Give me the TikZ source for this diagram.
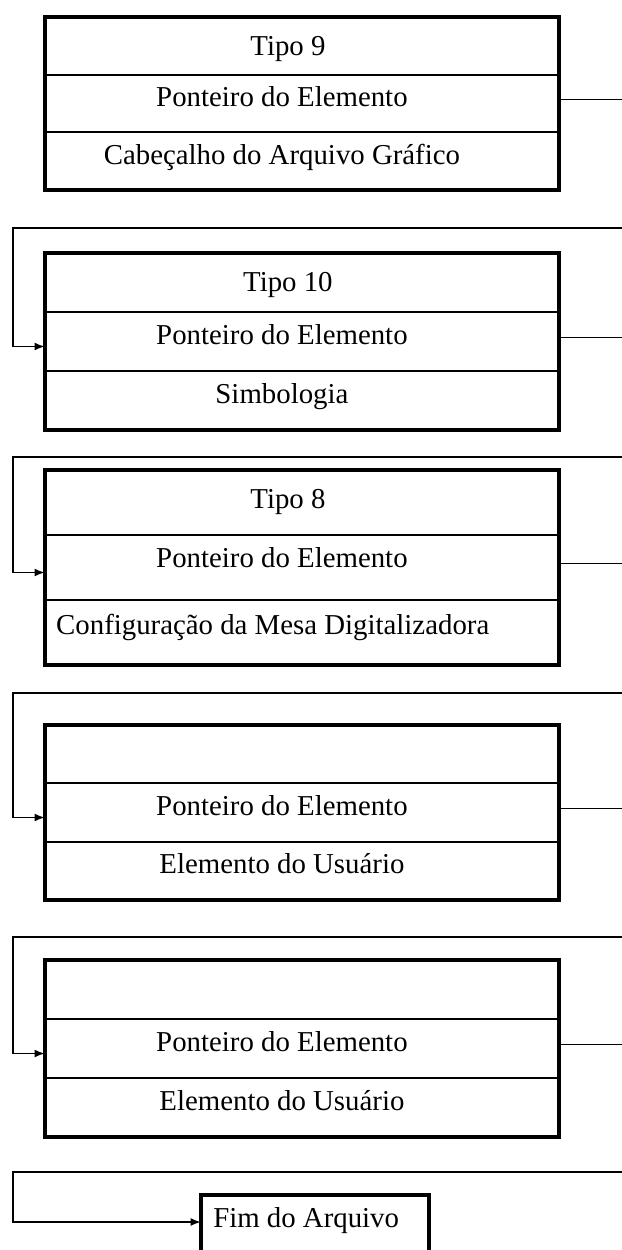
\documentclass[tikz,border=0pt]{standalone}
\usepackage{fontspec}
\setmainfont{Liberation Serif}
\usetikzlibrary{positioning, calc, arrows.meta}
\tikzset{registro/.style={draw, line width=0.12cm, minimum width=12.85cm, inner sep=0pt, outer sep=0pt}}
\tikzset{fio/.style={line width=0.045cm}}
\tikzset{rotulo/.style={anchor=base, inner sep=0pt, font=\fontsize{20.5pt}{24pt}\selectfont}}
\tikzset{seta/.style={fio, -{Latex[length=0.26cm, width=0.2cm]}}}
\newcommand{\Registro}[4]{
    \node[registro, minimum height={(#3-#2)*0.025cm}] (#1) at (302,{(#2+#3)/2}) {};
    \coordinate (#1-a) at ($(#1.north west)!1/3!(#1.south west)$);
    \coordinate (#1-b) at ($(#1.north west)!2/3!(#1.south west)$);
    \draw[fio] (#1-a) -- (#1-a -| #1.east);
    \draw[fio] (#1-b) -- (#1-b -| #1.east);
    \node[rotulo] (#1-tipo) at ($(#1.north west)+(243,38)$) {#4};
    \node[rotulo] (#1-pont) at ($(#1-a)+(237,32)$) {Ponteiro do Elemento};
    \coordinate (#1-sai) at ($(#1-a -| #1.east)!0.5!(#1-b -| #1.east)+(0,-4)$);
    \coordinate (#1-entra) at ($(#1-a)!0.5!(#1-b)+(0,5)$);
}

\begin{document}
\begin{tikzpicture}[x=0.025cm, y=-0.025cm]
    \useasboundingbox (0,0) rectangle (622,1250);
    \clip (0,0) rectangle (622,1250);
    \coordinate (borda) at (622,0);

    %% registros
    \Registro{b1}{17}{190}{Tipo 9}
    \node[rotulo] (b1-dado) at ($(b1-b)+(237,32)$) {Cabeçalho do Arquivo Gráfico};

    \Registro{b2}{253}{430}{Tipo 10}
    \node[rotulo] (b2-dado) at ($(b2-b)+(237,32)$) {Simbologia};

    \Registro{b3}{470}{665}{Tipo 8}
    \node[rotulo, anchor=base west] (b3-dado) at ($(b3-b)+(11,34)$) {Configuração da Mesa Digitalizadora};

    \Registro{b4}{725}{900}{}
    \node[rotulo] (b4-dado) at ($(b4-b)+(237,32)$) {Elemento do Usuário};

    \Registro{b5}{960}{1137}{}
    \node[rotulo] (b5-dado) at ($(b5-b)+(237,32)$) {Elemento do Usuário};

    \node[registro, minimum width=5.7cm, minimum height=2.5cm, anchor=north west] (fim) at (201,1195) {};
    \node[rotulo, anchor=base west] (fim-txt) at ($(fim.north west)+(12,32)$) {Fim do Arquivo};
    \coordinate (fim-entra) at ($(fim.north west)+(0,27)$);

    %% ponteiros
    \draw[fio] (b1-sai) -- (b1-sai -| borda);
    \draw[fio] (b2-sai) -- (b2-sai -| borda);
    \draw[fio] (b3-sai) -- (b3-sai -| borda);
    \draw[fio] (b4-sai) -- (b4-sai -| borda);
    \draw[fio] (b5-sai) -- (b5-sai -| borda);

    \coordinate (v2) at (13,228);
    \coordinate (v3) at (13,457);
    \coordinate (v4) at (13,693);
    \coordinate (v5) at (13,937);
    \coordinate (v6) at (13,1172);
    \draw[seta] (v2 -| borda) -- (v2) |- (b2-entra);
    \draw[seta] (v3 -| borda) -- (v3) |- (b3-entra);
    \draw[seta] (v4 -| borda) -- (v4) |- (b4-entra);
    \draw[seta] (v5 -| borda) -- (v5) |- (b5-entra);
    \draw[seta] (v6 -| borda) -- (v6) |- (fim-entra);
\end{tikzpicture}
\end{document}
